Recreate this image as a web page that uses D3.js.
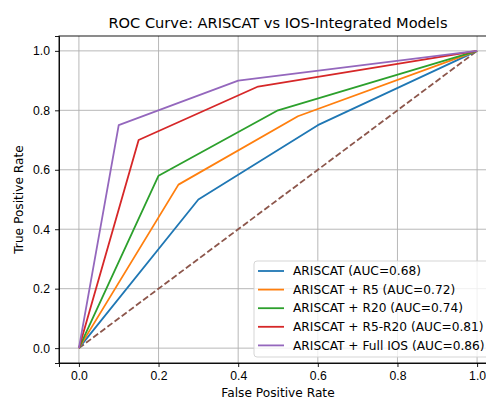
<!DOCTYPE html>
<html>
<head>
<meta charset="utf-8">
<script src="https://cdn.jsdelivr.net/npm/d3@7"></script>
<style>
  body { margin: 0; background: #fff; }
  svg { font-family: "DejaVu Sans", sans-serif; }
  .grid line { stroke: #b0b0b0; stroke-width: 0.9; }
  .axis text { font-size: 12.2px; fill: #000; }
  .axis path, .axis line { stroke: #000; stroke-width: 0.9; }
</style>
</head>
<body>
<script>
// ROC points
var names = ["ARISCAT (AUC=0.68)", "ARISCAT + R5 (AUC=0.72)", "ARISCAT + R20 (AUC=0.74)",
             "ARISCAT + R5-R20 (AUC=0.81)", "ARISCAT + Full IOS (AUC=0.86)"];
var colors = ["#1f77b4", "#ff7f0e", "#2ca02c", "#d62728", "#9467bd"];
var fpr = [
  [0, 0.3, 0.6, 1],
  [0, 0.25, 0.55, 1],
  [0, 0.2, 0.5, 1],
  [0, 0.15, 0.45, 1],
  [0, 0.1, 0.4, 1]
];
var tpr = [
  [0, 0.5, 0.75, 1],
  [0, 0.55, 0.78, 1],
  [0, 0.58, 0.8, 1],
  [0, 0.7, 0.88, 1],
  [0, 0.75, 0.9, 1]
];
var chance = [0, 1];
var ticks = [0, 0.2, 0.4, 0.6, 0.8, 1.0];

var W = 486, H = 401;
var margin = {top: 36, left: 59},
    width = 438,
    height = 327;

var svg = d3.select("body").append("svg").attr("width", W).attr("height", H);

var x = d3.scaleLinear().domain([-0.05, 1.05]).range([0, width]);
var y = d3.scaleLinear().domain([-0.05, 1.05]).range([height, 0]);

var chart = svg.append("g")
    .attr("transform", "translate(" + margin.left + "," + margin.top + ")");

// grid
chart.append("g").attr("class", "grid")
    .selectAll("line.v").data(ticks).enter().append("line")
    .attr("x1", function(d) { return x(d); }).attr("x2", function(d) { return x(d); })
    .attr("y1", 0).attr("y2", height);
chart.append("g").attr("class", "grid")
    .selectAll("line.h").data(ticks).enter().append("line")
    .attr("y1", function(d) { return y(d); }).attr("y2", function(d) { return y(d); })
    .attr("x1", 0).attr("x2", width);

// chance line
chart.append("line")
    .attr("x1", x(chance[0])).attr("y1", y(chance[0]))
    .attr("x2", x(chance[1])).attr("y2", y(chance[1]))
    .attr("stroke", "#8c564b").attr("stroke-width", 1.8)
    .attr("stroke-dasharray", "6.2,2.7");

var line = d3.line()
    .x(function(d) { return x(d[0]); })
    .y(function(d) { return y(d[1]); });

names.forEach(function(n, i) {
  var pts = fpr[i].map(function(v, j) { return [v, tpr[i][j]]; });
  chart.append("path")
      .datum(pts)
      .attr("d", line)
      .attr("fill", "none")
      .attr("stroke", colors[i])
      .attr("stroke-width", 1.8)
      .attr("stroke-linejoin", "round");
});

// axes
chart.append("g")
    .attr("class", "axis")
    .attr("transform", "translate(0," + height + ")")
    .call(d3.axisBottom(x).tickValues(ticks).tickFormat(d3.format(".1f")).tickSizeOuter(0).tickSize(4).tickPadding(4));

chart.append("g")
    .attr("class", "axis")
    .call(d3.axisLeft(y).tickValues(ticks).tickFormat(d3.format(".1f")).tickSizeOuter(0).tickSize(4).tickPadding(5));

// spines
chart.append("rect")
    .attr("width", width).attr("height", height)
    .attr("fill", "none").attr("stroke", "#000").attr("stroke-width", 0.9);

// legend
var lg = svg.append("g").attr("transform", "translate(254,261)");
lg.append("rect")
    .attr("width", 240).attr("height", 96).attr("rx", 3)
    .attr("fill", "#fff").attr("fill-opacity", 0.8)
    .attr("stroke", "#d0d0d0").attr("stroke-width", 0.9);
names.forEach(function(n, i) {
  var row = lg.append("g").attr("transform", "translate(0," + (10 + i * 18.6) + ")");
  row.append("line").attr("x1", 4).attr("x2", 30)
      .attr("stroke", colors[i]).attr("stroke-width", 1.8);
  row.append("text").attr("x", 39).attr("dy", "0.35em")
      .style("font-size", "12.2px").text(n);
});

// titles
svg.append("text")
    .attr("text-anchor", "middle")
    .attr("x", margin.left + width / 2).attr("y", 28)
    .style("font-size", "14.6px")
    .text("ROC Curve: ARISCAT vs IOS-Integrated Models");

svg.append("text")
    .attr("text-anchor", "middle")
    .attr("x", margin.left + width / 2).attr("y", 397)
    .style("font-size", "12.2px")
    .text("False Positive Rate");

svg.append("text")
    .attr("text-anchor", "middle")
    .attr("transform", "translate(23," + (margin.top + height / 2) + ")rotate(-90)")
    .style("font-size", "12.2px")
    .text("True Positive Rate");
</script>
</body>
</html>
